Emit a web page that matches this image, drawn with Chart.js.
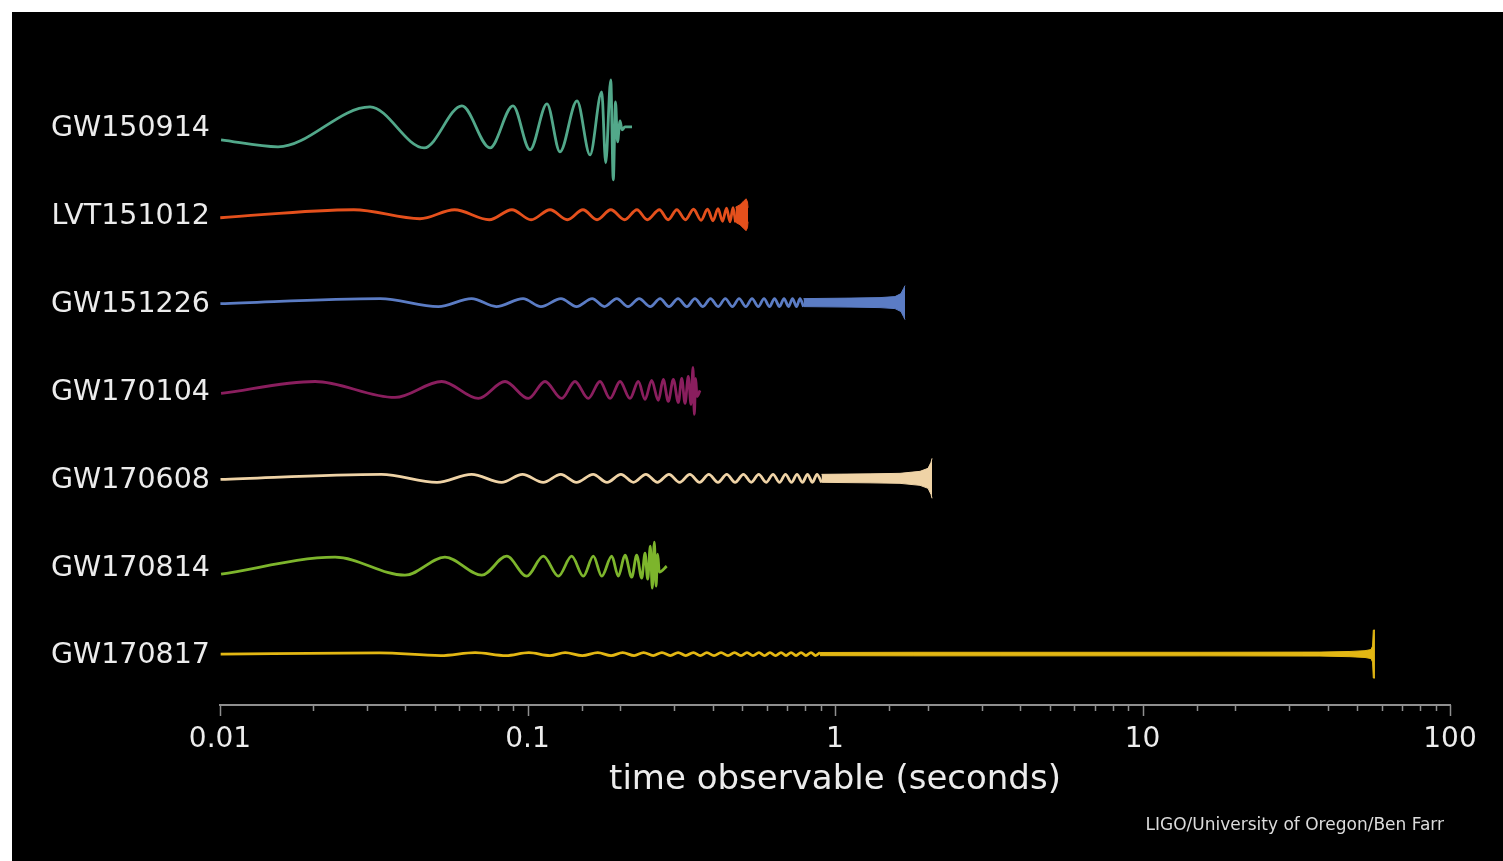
<!DOCTYPE html>
<html>
<head>
<meta charset="utf-8">
<script src="https://cdn.jsdelivr.net/npm/chart.js@4.4.1/dist/chart.umd.min.js"></script>
<style>
  html, body { margin: 0; padding: 0; background: #fff; }
  #wrap { position: absolute; left: 0; top: 0; width: 1503px; height: 861px; }
</style>
</head>
<body>
<div id="wrap"><canvas id="chirps"></canvas></div>
<script>
// ─── DATA ────────────────────────────────────────────────────
const events = ['GW150914', 'LVT151012', 'GW151226', 'GW170104', 'GW170608', 'GW170814', 'GW170817'];

const xTickValues = [0.01, 0.1, 1, 10, 100];
const xTickLabels = ['0.01', '0.1', '1', '10', '100'];
const xTitle = 'time observable (seconds)';
const credit = 'LIGO/University of Oregon/Ben Farr';

// each wave: times (s) of the visible peaks/troughs, and the strain there (arb. units)
const gw150914T = [0.01008, 0.01544, 0.03075, 0.0461, 0.0612, 0.0755, 0.0897, 0.1019, 0.1157, 0.1275, 0.1449,
                   0.1597, 0.1743, 0.1796, 0.1865, 0.1901, 0.1933, 0.1962, 0.2000, 0.2030, 0.2075, 0.2187];
const gw150914H = [-13, -20, 20, -21, 21, -21, 21, -23, 23, -25, 26, -28, 35, -36, 47, -53, 25, -15, 6, -3, 0, 0];

const lvt151012T = [0.01002, 0.02725, 0.0447, 0.0579, 0.0751, 0.0890, 0.1027, 0.1184, 0.1348, 0.1515, 0.1683,
                    0.1866, 0.2071, 0.2269, 0.2453, 0.2685, 0.2866, 0.3059, 0.3265, 0.3467, 0.3669,
                    0.3850, 0.4012, 0.4165, 0.4307, 0.4439, 0.4556, 0.4660, 0.4748];
const lvt151012H = [-3, 5, -4, 5, -5, 5, -5, 5, -5, 5, -5, 5, -5, 5, -5, 5, -5, 5, -5, 5.5, -5.5,
                    5.5, -6, 6, -6.5, 6.5, -7, 7, -7.5];

const gw151226T = [0.01003, 0.0332, 0.0513, 0.0658, 0.0791, 0.0967, 0.1106, 0.1285, 0.1444, 0.1623, 0.1778,
                   0.1952, 0.2123, 0.2307, 0.2508, 0.2699, 0.2885, 0.3087, 0.3299, 0.3503, 0.3719, 0.3936,
                   0.4167, 0.4398, 0.4638, 0.4876, 0.5128, 0.5373, 0.5630,
                   0.5877, 0.6124, 0.6359, 0.6600, 0.6826, 0.7061, 0.7275, 0.7496, 0.7694, 0.7898];
const gw151226H = [-1, 4, -4, 4, -4, 4, -4, 4, -4, 4, -4, 4, -4, 4, -4, 4, -4, 4, -4, 4, -4, 4, -4, 4, -4, 4, -4, 4, -4,
                   4, -4, 4, -4, 4, -4, 4, -4, 4, -4];

const gw170104T = [0.01008, 0.02037, 0.03708, 0.0526, 0.0692, 0.0845, 0.1006, 0.1140, 0.1292, 0.1427, 0.1576,
                   0.1721, 0.1855, 0.2000, 0.2154, 0.2293, 0.2411, 0.2534, 0.2663, 0.2764, 0.2870, 0.2980,
                   0.3094, 0.3174, 0.3253, 0.3334, 0.3402, 0.3453, 0.3487, 0.3524, 0.3558, 0.3639];
const gw170104H = [-3, 9, -7, 9, -8, 9, -8, 9, -8, 9, -8, 9, -8, 9, -8, 9, -9, 10, -10, 11, -11, 11, -12, 12,
                   -13, 14, -14, 23, -24, 12, -6, 0];

const gw170608T = [0.01004, 0.0335, 0.0508, 0.0658, 0.0824, 0.0963, 0.1125, 0.1283, 0.1443, 0.1635, 0.1814,
                   0.2013, 0.2211, 0.2427, 0.2645, 0.2885, 0.3123, 0.3372, 0.3626, 0.3887, 0.4164, 0.4447,
                   0.4732, 0.5037, 0.5343, 0.5648, 0.5969,
                   0.6288, 0.6600, 0.6902, 0.7221, 0.7524, 0.7839, 0.8138, 0.8449, 0.8740, 0.9039];
const gw170608H = [-1, 4, -4, 4, -4, 4, -4, 4, -4, 4, -4, 4, -4, 4, -4, 4, -4, 4, -4, 4, -4, 4, -4, 4, -4, 4, -4,
                   4, -4, 4, -4, 4, -4, 4, -4, 4, -4];

const gw170814T = [0.01008, 0.02366, 0.03996, 0.0539, 0.0710, 0.0856, 0.0994, 0.1126, 0.1260, 0.1392, 0.1519,
                   0.1637, 0.1743, 0.1879, 0.1974, 0.2075, 0.2183, 0.2265, 0.2352, 0.2411, 0.2460, 0.2508,
                   0.2546, 0.2585, 0.2618, 0.2651, 0.2683, 0.2836];
const gw170814H = [-8, 9, -9, 9, -9, 10, -10, 10, -10, 10, -10, 10, -10, 10, -10, 11, -11, 11, -12, 13, -13,
                   20, -22, 24, -20, 12, -6, 0];

const gw170817T = [0.01005, 0.0330, 0.0522, 0.0676, 0.0851, 0.1010, 0.1183, 0.1326, 0.1508, 0.1692, 0.1870,
                   0.2039, 0.2222, 0.2385, 0.2563, 0.2737, 0.2915, 0.3089, 0.3270, 0.3464, 0.3648, 0.3829,
                   0.4042, 0.4259, 0.4487, 0.4712, 0.4946, 0.5173, 0.5411, 0.5659, 0.5898, 0.6146,
                   0.6407, 0.6676, 0.6931, 0.7195, 0.7469, 0.7754, 0.8047, 0.8356, 0.8642, 0.8940];
const gw170817H = [0, 1.2, -1.5, 1.5, -1.5, 1.5, -1.5, 1.5, -1.5, 1.5, -1.5, 1.5, -1.5, 1.5, -1.5, 1.5, -1.5,
                   1.5, -1.5, 1.5, -1.5, 1.5,
                   -1.5, 1.5, -1.5, 1.5, -1.5, 1.5, -1.5, 1.5, -1.5, 1.5,
                   -1.5, 1.5, -1.5, 1.5, -1.5, 1.5, -1.5, 1.5, -1.5, 1.5];

// where the cycles are too tight to see, the wave reads as a band: times and half-height
const lvt151012BandT = [0.4748, 0.4909, 0.5023, 0.5137, 0.5193, 0.5214];
const lvt151012BandH = [7.5, 10, 13, 16, 13, 7];

const gw151226BandT = [0.7898, 1.1189, 1.4008, 1.567, 1.639, 1.670, 1.689];
const gw151226BandH = [4, 4.5, 5, 6, 9, 14, 17];

const gw170608BandT = [0.9039, 1.300, 1.627, 1.890, 2.007, 2.052, 2.068];
const gw170608BandH = [4, 4.5, 5, 7, 10, 16, 20];

const gw170817BandT = [0.8940, 1.794, 3.441, 15.38, 37.77, 47.29, 52.92, 55.35, 56.0, 56.3, 57.0];
const gw170817BandH = [1.6, 1.8, 1.8, 1.8, 2, 2.6, 3.4, 4.5, 8, 24, 24];

// ─── STYLE ───────────────────────────────────────────────────
const palette = ['#52a88a', '#e4501c', '#5b7cc4', '#8a1e5e', '#efd3a6', '#7db52c', '#e3b713'];
const textColor = '#ececec';
const axisColor = '#8f8f8f';
const ROW_GAP = 88;

Chart.defaults.font.family = '"DejaVu Sans", sans-serif';

const waves = [
    { t: gw150914T,  h: gw150914H,  bt: [],             bh: [] },
    { t: lvt151012T, h: lvt151012H, bt: lvt151012BandT, bh: lvt151012BandH },
    { t: gw151226T,  h: gw151226H,  bt: gw151226BandT,  bh: gw151226BandH },
    { t: gw170104T,  h: gw170104H,  bt: [],             bh: [] },
    { t: gw170608T,  h: gw170608H,  bt: gw170608BandT,  bh: gw170608BandH },
    { t: gw170814T,  h: gw170814H,  bt: [],             bh: [] },
    { t: gw170817T,  h: gw170817H,  bt: gw170817BandT,  bh: gw170817BandH },
];

const rowBase = (i) => (events.length - 1 - i) * ROW_GAP;

const datasets = [];
waves.forEach((w, i) => {
    const base = rowBase(i);
    const col  = palette[i];
    datasets.push({
        label: events[i],
        data: w.t.map((t, k) => ({ x: t, y: base + w.h[k] })),
        borderColor: col,
        borderWidth: 2.8,
        cubicInterpolationMode: 'monotone',
        pointRadius: 0,
        fill: false,
    });
    if (w.bt.length) {
        datasets.push({
            label: events[i] + ' upper',
            data: w.bt.map((t, k) => ({ x: t, y: base + w.bh[k] })),
            borderColor: col, borderWidth: 1, pointRadius: 0, tension: 0, fill: false,
        });
        datasets.push({
            label: events[i] + ' lower',
            data: w.bt.map((t, k) => ({ x: t, y: base - w.bh[k] })),
            borderColor: col, backgroundColor: col, borderWidth: 1, pointRadius: 0, tension: 0, fill: '-1',
        });
    }
});

const isDecade = (v) => Math.abs(Math.log10(v) - Math.round(Math.log10(v))) < 1e-6;

// background frame, tick marks of two lengths, credit line
const decorations = {
    id: 'decorations',
    beforeDraw(chart) {
        const c = chart.ctx;
        c.save();
        c.fillStyle = '#fff';
        c.fillRect(0, 0, chart.width, chart.height);
        c.fillStyle = '#000';
        c.fillRect(12, 12, chart.width - 12, chart.height - 12);
        c.restore();
    },
    afterDraw(chart) {
        const c = chart.ctx;
        const xs = chart.scales.x;
        c.save();
        c.strokeStyle = axisColor;
        c.lineWidth = 1.5;
        xs.ticks.forEach((tk) => {
            const px = Math.round(xs.getPixelForValue(tk.value)) + 0.5;
            c.beginPath();
            c.moveTo(px, xs.top);
            c.lineTo(px, xs.top + (isDecade(tk.value) ? 11 : 6));
            c.stroke();
        });
        c.fillStyle = '#dcdcdc';
        c.font = '17px "DejaVu Sans"';
        c.textAlign = 'right';
        c.textBaseline = 'middle';
        c.fillText(credit, 1444, 826);
        c.restore();
    },
};

new Chart(document.getElementById('chirps'), {
    type: 'line',
    data: { datasets },
    options: {
        responsive: true,
        maintainAspectRatio: false,
        animation: false,
        layout: { padding: { left: 0, top: 40, right: 53, bottom: 0 } },
        plugins: { legend: { display: false }, tooltip: { enabled: false } },
        scales: {
            x: {
                type: 'logarithmic',
                min: 0.01,
                max: 100,
                afterFit: (s) => { s.height = 156; },
                grid: { display: false, drawTicks: false },
                border: { display: true, color: axisColor, width: 2 },
                ticks: {
                    color: textColor,
                    font: { size: 28 },
                    padding: 18,
                    autoSkip: false,
                    maxRotation: 0,
                    callback: (v) => {
                        const i = xTickValues.findIndex((d) => Math.abs(d - v) / d < 1e-6);
                        return i >= 0 ? xTickLabels[i] : '';
                    },
                },
                title: {
                    display: true,
                    text: xTitle,
                    color: textColor,
                    font: { size: 34 },
                    padding: { top: 0, bottom: 60 },
                },
            },
            y: {
                type: 'linear',
                min: -51,
                max: 615,
                afterFit: (s) => { s.width = 220; },
                afterBuildTicks: (s) => { s.ticks = events.map((_, i) => ({ value: rowBase(i) })); },
                grid: { display: false, drawTicks: false },
                border: { display: false },
                ticks: {
                    color: textColor,
                    font: { size: 28.5 },
                    padding: 10,
                    labelOffset: 2,
                    autoSkip: false,
                    callback: (v) => events[events.length - 1 - Math.round(v / ROW_GAP)],
                },
            },
        },
    },
    plugins: [decorations],
});
</script>
</body>
</html>
